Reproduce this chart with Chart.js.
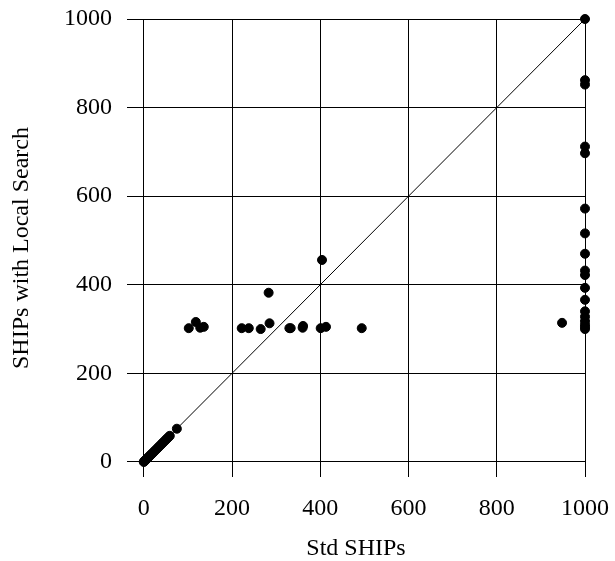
<!DOCTYPE html>
<html lang="en">
<head>
<meta charset="UTF-8">
<title>Std SHIPs vs SHIPs with Local Search</title>
<style>
  html, body { margin: 0; padding: 0; background: #fff; }
  #wrap { width: 615px; height: 561px; }
</style>
</head>
<body>
<div id="wrap"><canvas id="chart"></canvas></div>
<script src="https://cdn.jsdelivr.net/npm/chart.js@4.4.0/dist/chart.umd.min.js"></script>
<script>
const tickValues = [0, 200, 400, 600, 800, 1000];

// paired values: standard SHIPs (x) and SHIPs with local search (y)
const stdShips = [
  0, 1, 2, 3, 4, 6, 8, 10, 12, 14, 16, 18, 20, 23, 26, 29, 32, 35, 38, 41, 44, 47, 50, 53, 56, 59, 75,
  102, 118, 128, 136, 222, 238, 265, 285, 283, 330, 333, 360, 361, 401, 413, 404, 494, 948,
  1000, 1000, 1000, 1000, 1000, 1000, 1000, 1000, 1000, 1000, 1000, 1000, 1000, 1000, 1000, 1000, 1000, 1000
];
const localShips = [
  0, 1, 2, 3, 4, 6, 8, 10, 12, 14, 16, 18, 20, 23, 26, 29, 32, 35, 38, 41, 44, 47, 50, 53, 56, 59, 75,
  302, 316, 303, 305, 302, 302, 300, 313, 382, 302, 302, 303, 307, 302, 305, 456, 302, 314,
  1000, 862, 852, 712, 697, 572, 516, 470, 432, 422, 393, 366, 340, 328, 318, 310, 305, 300
];
const diagonal = [0, 1000];

const points = stdShips.map((x, i) => ({ x: x, y: localShips[i] }));

Chart.defaults.font.family = '"Liberation Serif", "DejaVu Serif", serif';
Chart.defaults.font.size = 24;
Chart.defaults.color = '#000';

const fixedTicks = scale => {
  scale.ticks = tickValues.map(v => ({ value: v }));
};
const plainLabel = v => String(v);
// let the layout padding alone decide the plot edges
const noOverhang = s => {
  s.paddingLeft = s.paddingRight = s.paddingTop = s.paddingBottom = 0;
};

new Chart(document.getElementById('chart'), {
  type: 'scatter',
  data: {
    datasets: [
      {
        data: points,
        backgroundColor: '#000',
        borderColor: '#000',
        pointRadius: 4.5,
        pointHoverRadius: 4.5,
        clip: false
      },
      {
        type: 'line',
        data: diagonal.map(v => ({ x: v, y: v })),
        borderColor: '#000',
        borderWidth: 1,
        pointRadius: 0,
        fill: false
      }
    ]
  },
  options: {
    responsive: true,
    maintainAspectRatio: false,
    animation: false,
    layout: { padding: { top: 19, right: 30, left: 0, bottom: 0 } },
    plugins: { legend: { display: false }, tooltip: { enabled: false } },
    scales: {
      x: {
        type: 'linear',
        min: -38,
        max: 1000,
        afterBuildTicks: fixedTicks,
        afterFit: s => { s.height = 84; noOverhang(s); },
        border: { display: false },
        grid: { color: '#000', lineWidth: 1, drawTicks: false },
        ticks: { padding: 17, maxRotation: 0, callback: plainLabel },
        title: { display: true, text: 'Std SHIPs', font: { size: 24, lineHeight: 1 }, padding: { top: 0, bottom: 0 } }
      },
      y: {
        type: 'linear',
        min: -34,
        max: 1000,
        afterBuildTicks: fixedTicks,
        afterFit: s => { s.width = 127; noOverhang(s); },
        border: { display: false },
        grid: { color: '#000', lineWidth: 1, drawTicks: false },
        ticks: { padding: 15, callback: plainLabel },
        title: { display: true, text: 'SHIPs with Local Search', font: { size: 24, lineHeight: 1 }, padding: { top: 10, bottom: 0 } }
      }
    }
  }
});
</script>
</body>
</html>
